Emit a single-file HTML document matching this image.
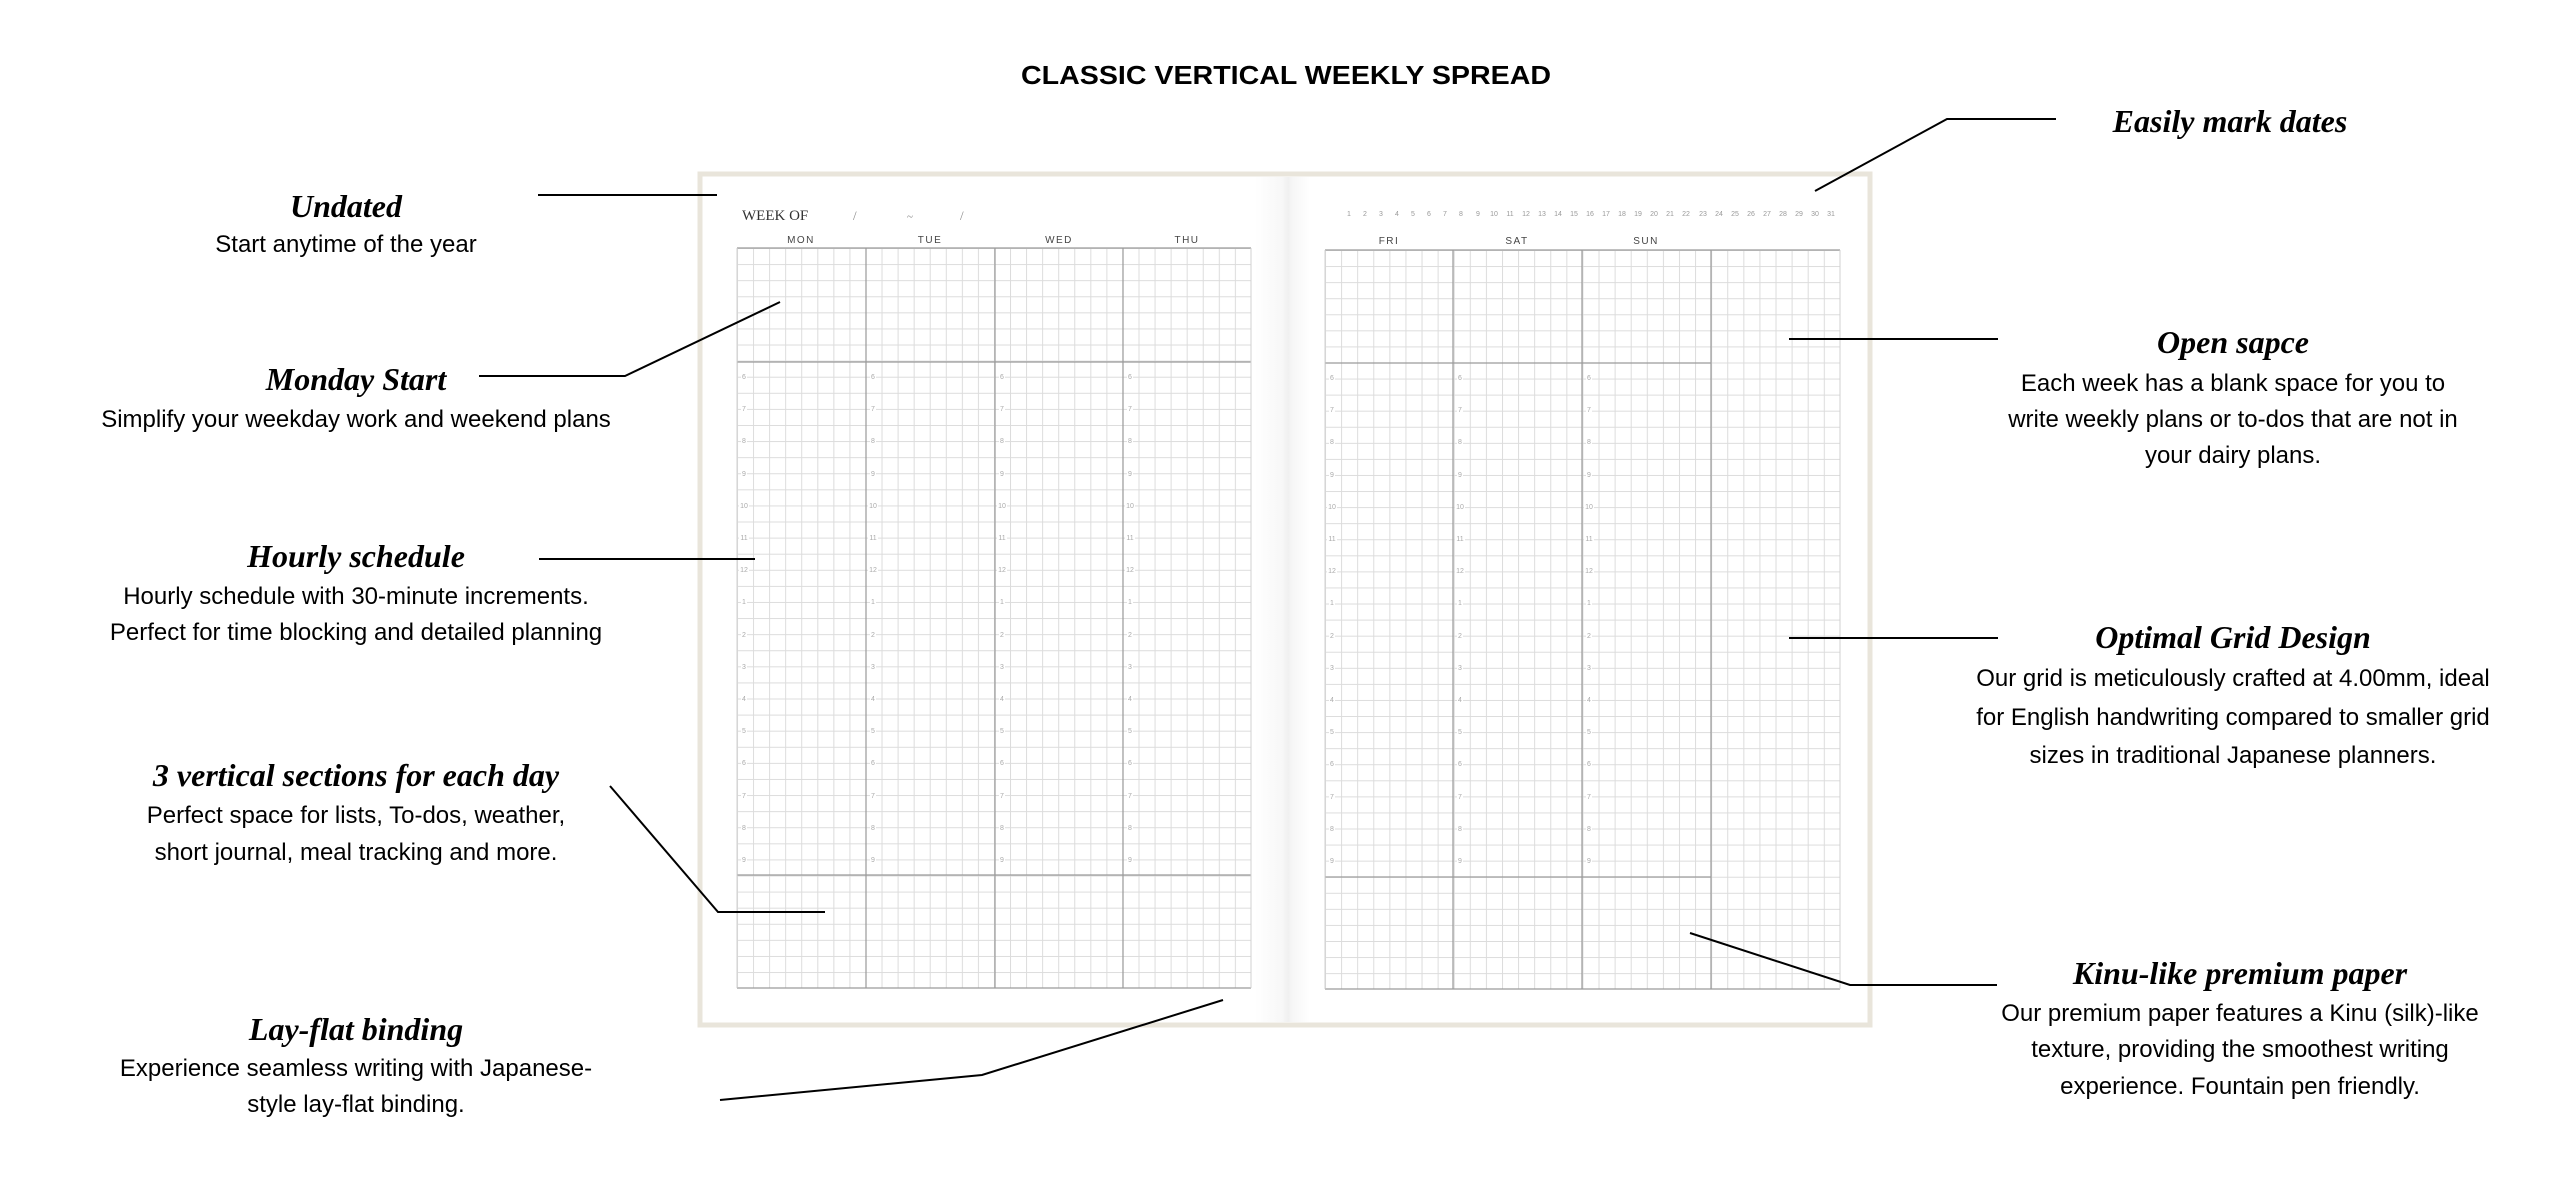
<!DOCTYPE html>
<html><head><meta charset="utf-8"><style>
html,body{margin:0;padding:0;background:#fff;}
svg{display:block}
.t{font-family:"Liberation Serif",serif;font-weight:bold;font-style:italic;font-size:32px;fill:#000;text-anchor:middle}
.s{font-family:"Liberation Sans",sans-serif;font-size:24px;fill:#000;text-anchor:middle}
.d{font-family:"Liberation Sans",sans-serif;font-size:10px;fill:#444;text-anchor:middle;letter-spacing:1.5px}
.n{font-family:"Liberation Sans",sans-serif;font-size:7px;fill:#999;text-anchor:middle}
.h{position:absolute;font-family:"Liberation Sans",sans-serif;font-size:7px;color:#aaa;line-height:32.2px;width:12px;text-align:center}
.h span{background:#fff;padding:0 1px}
</style></head><body>
<div style="position:relative;width:2572px;height:1200px;overflow:hidden">
<svg width="2572" height="1200" viewBox="0 0 2572 1200" style="position:absolute;left:0;top:0">
<defs>
<pattern id="g" x="737" y="248" width="16.06" height="16.09" patternUnits="userSpaceOnUse">
<path d="M0 0.5H16.06M0.5 0V16.09" stroke="#dcdcdc" stroke-width="1" fill="none"/>
</pattern>
<pattern id="g2" x="1325" y="250" width="16.09" height="16.07" patternUnits="userSpaceOnUse">
<path d="M0 0.5H16.09M0.5 0V16.07" stroke="#dcdcdc" stroke-width="1" fill="none"/>
</pattern>
<linearGradient id="gut" x1="0" x2="1" y1="0" y2="0">
<stop offset="0" stop-color="#fff"/>
<stop offset="0.5" stop-color="#f7f7f7"/>
<stop offset="0.6" stop-color="#f0f0f0"/>
<stop offset="0.68" stop-color="#f6f6f6"/>
<stop offset="1" stop-color="#fff"/>
</linearGradient>
</defs>
<text x="1286" y="84" font-family="Liberation Sans, sans-serif" font-weight="bold" font-size="26" text-anchor="middle" textLength="530" lengthAdjust="spacingAndGlyphs">CLASSIC VERTICAL WEEKLY SPREAD</text>

<!-- book -->
<rect x="700" y="174" width="1170" height="851" fill="#fff" stroke="#e9e5db" stroke-width="5"/>
<rect x="1255" y="177" width="55" height="845" fill="url(#gut)"/>

<!-- left grid -->
<rect x="737" y="248" width="514" height="740" fill="url(#g)"/>
<g stroke="#9a9a9a" stroke-width="1.2" fill="none">
<path d="M737 248H1251M737 362H1251M737 875H1251M737 988H1251M866 248V988M995 248V988M1123 248V988"/>
</g>
<path d="M737 248V988M1251 248V988" stroke="#d0d0d0" stroke-width="1"/>
<text x="742" y="220" font-family="Liberation Serif, serif" font-size="15" fill="#333">WEEK OF</text>
<text x="853" y="220" font-family="Liberation Serif, serif" font-size="13" fill="#888">/</text>
<text x="907" y="220" font-family="Liberation Serif, serif" font-size="11" fill="#888">~</text>
<text x="960" y="220" font-family="Liberation Serif, serif" font-size="13" fill="#888">/</text>
<text class="d" x="801" y="243">MON</text>
<text class="d" x="930" y="243">TUE</text>
<text class="d" x="1059" y="243">WED</text>
<text class="d" x="1187" y="243">THU</text>

<!-- right grid -->
<rect x="1325" y="250" width="515" height="739" fill="url(#g2)"/>
<g stroke="#9a9a9a" stroke-width="1.2" fill="none">
<path d="M1325 250H1840M1325 363H1711M1325 877H1711M1325 989H1840M1453 250V989M1582 250V989M1711 250V989"/>
</g>
<path d="M1325 250V989M1840 250V989" stroke="#d0d0d0" stroke-width="1"/>
<text class="d" x="1389" y="244">FRI</text>
<text class="d" x="1517" y="244">SAT</text>
<text class="d" x="1646" y="244">SUN</text>
<g class="n">
<text x="1349" y="216" class="n">1</text><text x="1365" y="216" class="n">2</text><text x="1381" y="216" class="n">3</text><text x="1397" y="216" class="n">4</text><text x="1413" y="216" class="n">5</text><text x="1429" y="216" class="n">6</text><text x="1445" y="216" class="n">7</text><text x="1461" y="216" class="n">8</text><text x="1478" y="216" class="n">9</text><text x="1494" y="216" class="n">10</text><text x="1510" y="216" class="n">11</text><text x="1526" y="216" class="n">12</text><text x="1542" y="216" class="n">13</text><text x="1558" y="216" class="n">14</text><text x="1574" y="216" class="n">15</text><text x="1590" y="216" class="n">16</text><text x="1606" y="216" class="n">17</text><text x="1622" y="216" class="n">18</text><text x="1638" y="216" class="n">19</text><text x="1654" y="216" class="n">20</text><text x="1670" y="216" class="n">21</text><text x="1686" y="216" class="n">22</text><text x="1703" y="216" class="n">23</text><text x="1719" y="216" class="n">24</text><text x="1735" y="216" class="n">25</text><text x="1751" y="216" class="n">26</text><text x="1767" y="216" class="n">27</text><text x="1783" y="216" class="n">28</text><text x="1799" y="216" class="n">29</text><text x="1815" y="216" class="n">30</text><text x="1831" y="216" class="n">31</text>
</g>

<!-- connectors -->
<g stroke="#000" stroke-width="2" fill="none">
<path d="M538 195H717"/>
<path d="M479 376H625L780 302"/>
<path d="M539 559H755"/>
<path d="M610 786L718 912H825"/>
<path d="M720 1100L982 1075L1223 1000"/>
<path d="M2056 119H1947L1815 191"/>
<path d="M1789 339H1998"/>
<path d="M1789 638H1998"/>
<path d="M1690 933L1850 985H1997"/>
</g>

<!-- left labels -->
<text class="t" x="346" y="217">Undated</text>
<text class="s" x="346" y="252">Start anytime of the year</text>
<text class="t" x="356" y="390">Monday Start</text>
<text class="s" x="356" y="427">Simplify your weekday work and weekend plans</text>
<text class="t" x="356" y="567">Hourly schedule</text>
<text class="s" x="356" y="604">Hourly schedule with 30-minute increments.</text>
<text class="s" x="356" y="640">Perfect for time blocking and detailed planning</text>
<text class="t" x="356" y="786">3 vertical sections for each day</text>
<text class="s" x="356" y="823">Perfect space for lists, To-dos, weather,</text>
<text class="s" x="356" y="860">short journal, meal tracking and more.</text>
<text class="t" x="356" y="1040">Lay-flat binding</text>
<text class="s" x="356" y="1076">Experience seamless writing with Japanese-</text>
<text class="s" x="356" y="1112">style lay-flat binding.</text>

<!-- right labels -->
<text class="t" x="2230" y="132">Easily mark dates</text>
<text class="t" x="2233" y="353">Open sapce</text>
<text class="s" x="2233" y="391">Each week has a blank space for you to</text>
<text class="s" x="2233" y="427">write weekly plans or to-dos that are not in</text>
<text class="s" x="2233" y="463">your dairy plans.</text>
<text class="t" x="2233" y="648">Optimal Grid Design</text>
<text class="s" x="2233" y="686">Our grid is meticulously crafted at 4.00mm, ideal</text>
<text class="s" x="2233" y="725">for English handwriting compared to smaller grid</text>
<text class="s" x="2233" y="763">sizes in traditional Japanese planners.</text>
<text class="t" x="2240" y="984">Kinu-like premium paper</text>
<text class="s" x="2240" y="1021">Our premium paper features a Kinu (silk)-like</text>
<text class="s" x="2240" y="1057">texture, providing the smoothest writing</text>
<text class="s" x="2240" y="1094">experience. Fountain pen friendly.</text>
</svg>

<!-- hour labels -->
<div class="h" style="left:738px;top:362px"><span>6</span><br><span>7</span><br><span>8</span><br><span>9</span><br><span>10</span><br><span>11</span><br><span>12</span><br><span>1</span><br><span>2</span><br><span>3</span><br><span>4</span><br><span>5</span><br><span>6</span><br><span>7</span><br><span>8</span><br><span>9</span></div>
<div class="h" style="left:867px;top:362px"><span>6</span><br><span>7</span><br><span>8</span><br><span>9</span><br><span>10</span><br><span>11</span><br><span>12</span><br><span>1</span><br><span>2</span><br><span>3</span><br><span>4</span><br><span>5</span><br><span>6</span><br><span>7</span><br><span>8</span><br><span>9</span></div>
<div class="h" style="left:996px;top:362px"><span>6</span><br><span>7</span><br><span>8</span><br><span>9</span><br><span>10</span><br><span>11</span><br><span>12</span><br><span>1</span><br><span>2</span><br><span>3</span><br><span>4</span><br><span>5</span><br><span>6</span><br><span>7</span><br><span>8</span><br><span>9</span></div>
<div class="h" style="left:1124px;top:362px"><span>6</span><br><span>7</span><br><span>8</span><br><span>9</span><br><span>10</span><br><span>11</span><br><span>12</span><br><span>1</span><br><span>2</span><br><span>3</span><br><span>4</span><br><span>5</span><br><span>6</span><br><span>7</span><br><span>8</span><br><span>9</span></div>
<div class="h" style="left:1326px;top:363px"><span>6</span><br><span>7</span><br><span>8</span><br><span>9</span><br><span>10</span><br><span>11</span><br><span>12</span><br><span>1</span><br><span>2</span><br><span>3</span><br><span>4</span><br><span>5</span><br><span>6</span><br><span>7</span><br><span>8</span><br><span>9</span></div>
<div class="h" style="left:1454px;top:363px"><span>6</span><br><span>7</span><br><span>8</span><br><span>9</span><br><span>10</span><br><span>11</span><br><span>12</span><br><span>1</span><br><span>2</span><br><span>3</span><br><span>4</span><br><span>5</span><br><span>6</span><br><span>7</span><br><span>8</span><br><span>9</span></div>
<div class="h" style="left:1583px;top:363px"><span>6</span><br><span>7</span><br><span>8</span><br><span>9</span><br><span>10</span><br><span>11</span><br><span>12</span><br><span>1</span><br><span>2</span><br><span>3</span><br><span>4</span><br><span>5</span><br><span>6</span><br><span>7</span><br><span>8</span><br><span>9</span></div>
</div>
</body></html>
